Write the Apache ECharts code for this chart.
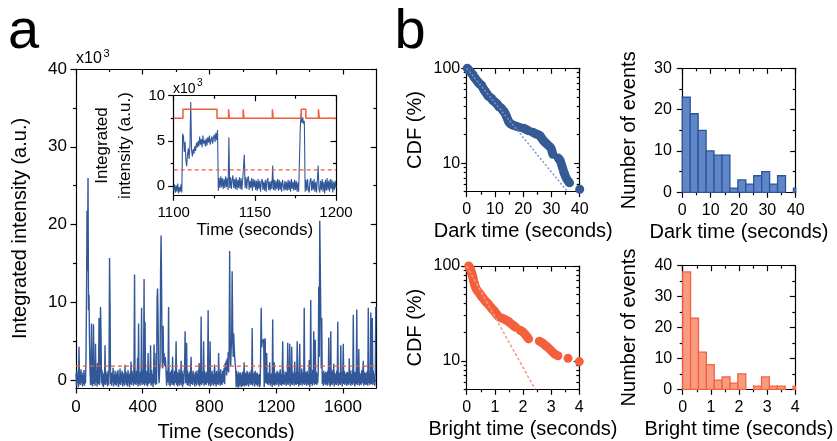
<!DOCTYPE html>
<html><head><meta charset="utf-8">
<script src="https://cdn.jsdelivr.net/npm/echarts@6/dist/echarts.min.js"></script>
<style>html,body{margin:0;padding:0;background:#fff}#c{width:837px;height:441px}</style>
</head><body><div id="c"></div>
<script>
// ---------- data ----------
const traceStep = 3; // seconds per sample (main trace)
const traceValues = [
0.9,-0.7,1.2,-0.4,0.8,-0.9,4.3,-0.5,1.1,-0.6,1.4,-0.3,0.7,-0.8,1.0,-0.5,1.3,-0.7,0.6,-0.4,
3.0,10.5,21.8,14.0,26.0,9.0,11.0,5.0,1.2,-0.6,0.9,7.3,-0.4,-0.8,1.1,7.2,-0.5,0.8,-0.7,4.7,
-0.3,1.2,-0.8,2.2,-0.5,0.9,8.0,-0.6,1.1,9.4,6.0,-0.4,1.3,-0.7,0.8,-0.9,1.0,-0.5,4.5,-0.6,
1.1,-0.4,0.8,-0.8,1.2,-0.6,1.4,15.7,10.0,-0.5,0.9,-0.7,1.0,-0.3,1.6,-0.8,0.7,-0.5,1.2,-0.6,
0.8,-0.7,1.1,-0.4,1.3,-0.9,0.6,-0.5,1.5,-0.6,0.9,-0.3,1.2,-0.8,1.0,-0.5,0.7,-0.7,2.0,-0.4,
1.1,-0.6,0.9,-0.8,1.3,-0.4,0.7,-0.9,1.0,-0.5,2.4,-0.6,1.2,-0.3,0.8,-0.7,2.8,13.6,-0.5,1.1,
-0.6,1.2,-0.4,2.9,-0.8,7.3,-0.5,0.9,-0.7,1.1,-0.3,9.3,-0.6,1.3,-0.5,0.8,13.0,-0.7,7.5,-0.4,
1.0,-0.6,1.2,-0.8,3.5,-0.5,0.9,-0.4,1.1,4.5,-0.7,1.3,-0.5,0.8,-0.9,1.0,4.6,-0.4,1.2,-0.6,
3.5,-0.5,10.5,11.8,8.0,1.2,-0.4,1.1,2.0,14.0,18.6,12.0,2.5,1.5,7.0,2.2,3.5,1.8,3.0,2.4,
1.0,-0.7,1.2,-0.3,1.8,9.4,-0.6,0.9,-0.8,1.1,-0.4,1.3,-0.6,3.0,-0.5,0.8,-0.7,1.2,-0.4,0.9,
5.0,-0.6,1.1,-0.8,0.9,-0.5,1.4,-0.7,1.0,-0.4,2.5,-0.6,1.2,-0.9,0.8,-0.5,1.1,1.6,6.3,-0.4,
0.9,4.8,-0.6,1.2,-0.7,0.8,-0.4,1.1,-0.8,1.3,3.0,-0.5,0.9,-0.6,1.2,-0.3,0.7,-0.8,1.0,-0.5,
1.2,-0.7,0.9,-0.4,1.3,-0.6,2.2,-0.8,1.0,-0.5,8.2,-0.6,1.1,-0.4,0.8,5.0,-0.7,1.2,-0.5,0.9,
-0.6,1.1,-0.4,1.0,9.0,-0.7,1.3,-0.5,5.0,-0.8,0.9,-0.6,1.2,-0.4,0.8,-0.7,1.1,2.0,-0.5,1.0,
-0.8,1.2,-0.5,0.9,-0.6,3.5,-0.4,1.1,-0.7,1.4,-0.5,0.8,-0.6,1.2,-0.3,1.0,1.6,-0.5,2.2,1.4,
2.5,0.6,2.8,1.2,3.6,1.0,4.0,16.6,6.0,1.8,4.0,5.0,14.0,7.0,3.0,6.0,4.5,3.0,2.2,1.5,
-0.9,1.2,-0.7,0.8,-1.0,1.1,-0.8,0.9,-0.6,1.0,-0.9,0.7,-0.8,1.1,-0.7,0.6,2.3,-0.8,0.9,-0.6,
1.0,-0.7,1.2,-0.5,0.8,-0.8,1.1,-0.4,0.9,-0.6,1.3,-0.5,6.7,-0.7,0.8,-0.4,1.0,-0.8,1.2,-0.5,
0.9,-0.6,1.0,-0.8,0.7,-0.5,0.8,-0.9,-0.5,3.8,9.3,4.2,4.9,5.1,4.8,5.3,-0.9,1.0,5.4,-0.4,
1.1,3.5,-0.5,0.9,-0.6,1.0,-0.4,2.3,-0.7,0.8,-0.5,0.9,-0.9,7.8,-0.6,1.0,2.3,-0.7,0.8,-0.5,
1.0,-0.6,1.2,-0.4,0.9,-0.8,1.1,-0.5,1.4,-0.6,0.8,-0.7,1.0,5.0,-0.5,1.2,-0.6,0.7,-0.4,1.1,
-0.7,1.0,-0.5,4.8,-0.6,1.2,-0.4,4.7,-0.8,0.9,-0.5,4.3,-0.6,1.1,-0.4,0.8,-0.7,2.4,-0.5,1.0,
-0.6,0.9,5.0,-0.5,1.1,-0.8,1.2,4.7,-0.6,0.8,-0.4,1.5,-0.7,1.0,-0.5,0.9,9.3,-0.6,1.1,-0.4,
1.0,-0.7,1.2,-0.5,0.8,-0.6,2.6,-0.9,1.1,10.3,-0.5,0.9,-0.7,1.3,-0.4,6.3,-0.6,1.0,5.2,-0.5,
1.1,-0.6,0.9,-0.4,1.2,12.0,3.0,20.5,15.0,9.0,1.5,8.0,-0.5,1.0,-0.7,1.2,-0.4,0.9,-0.6,1.1,
-0.5,1.0,-0.7,1.2,-0.4,5.5,-0.6,0.9,-0.8,6.3,-0.5,1.1,-0.6,1.3,-0.4,2.1,-0.8,1.0,-0.5,0.8,
-0.6,1.2,-0.4,7.5,-0.7,1.0,-0.5,0.9,-0.6,4.5,-0.4,1.1,-0.8,1.0,4.7,-0.5,1.2,-0.6,0.8,-0.4,
1.0,-0.7,1.1,-0.5,0.9,-0.6,2.8,-0.4,1.2,-0.7,0.8,-0.5,1.3,-0.6,8.4,-0.4,1.0,-0.8,1.1,-0.5,
0.9,9.1,-0.6,1.2,-0.4,4.0,-0.7,1.0,-0.5,0.8,-0.6,1.3,-0.4,0.9,2.5,-0.7,1.1,-0.5,0.9,-0.6,
1.0,-0.5,1.2,-0.7,9.3,-0.4,0.9,-0.6,1.1,8.7,-0.5,1.0,8.0,-0.6,1.2,-0.4,0.8,-0.7,1.1,9.4
];
const insetStart = 1100, insetStep = 0.5;
const insetValues = [
-0.5,0.2,-0.7,0.1,-0.6,0.3,-0.8,-0.1,-0.6,0.2,-0.7,5.8,5.5,3.8,4.9,2.9,2.2,3.5,4.2,3.0,
4.5,9.3,4.0,3.3,4.1,3.6,4.4,3.9,4.8,4.3,5.0,4.4,5.5,4.6,5.2,4.3,5.6,4.7,5.1,4.4,
5.3,4.5,5.4,4.8,5.6,4.6,5.1,5.5,4.7,5.4,5.7,4.9,5.9,5.1,6.2,-0.5,0.9,-0.2,1.1,-0.1,
0.9,-0.3,0.8,-0.2,1.1,-0.1,0.9,-0.4,5.4,-0.2,1.0,-0.3,0.7,1.2,-0.2,0.8,-0.3,1.0,-0.4,0.7,
-0.2,1.0,-0.3,0.9,-0.4,0.7,0.8,3.5,-0.2,1.0,-0.3,0.8,1.1,-0.4,0.6,-0.2,0.9,-0.5,0.8,-0.1,
0.7,-0.4,0.6,-0.5,0.8,-0.3,0.6,-0.6,0.5,0.8,-0.4,0.5,-0.5,0.7,-0.6,0.6,0.9,-0.4,0.5,-0.5,
0.6,-0.3,2.3,-0.4,0.7,-0.5,0.6,-0.3,0.8,-0.5,0.7,-0.4,0.5,-0.6,0.7,0.9,-0.5,0.6,-0.4,0.5,
-0.5,0.7,-0.4,0.6,-0.6,0.8,-0.3,0.5,-0.5,0.7,-0.4,0.6,-0.6,0.4,-0.6,-0.8,6.5,8.1,7.0,7.6,
6.9,7.2,-0.6,0.7,-0.5,0.8,-0.4,-0.7,0.6,0.9,-0.5,0.6,-0.4,0.8,-0.6,0.5,-0.7,0.6,2.3,-0.3,
-0.7,0.6,-0.4,0.8,-0.6,0.5,-0.8,0.7,-0.5,0.9,-0.4,0.6,-0.6,0.8,-0.3,0.7,-0.7,0.5,-0.4,0.6,
-0.2
];
const stepTimes  = [1100,1105.7,1126.7,1133.8,1134.3,1142.8,1143.3,1160.8,1161.3,1178.6,1181.4,1189.2,1189.7,1200];
const stepLevels = [7.5, 8.5,   7.5,   8.5,   7.5,   8.5,   7.5,   8.5,   7.5,   8.5,   7.5,   8.5,   7.5,   7.5];
const thresholdLevel = 1.8;

const darkCdf = [[0.2,100],[0.5,97],[0.8,95],[1.1,93],[1.4,91],[1.7,89],[2.0,87],[2.3,84],[2.6,81],[2.9,79],[3.2,77],[3.5,75],[3.8,73],[4.1,71],[4.4,69],[4.7,68],[5.0,67],[5.3,66],[5.6,63],[5.9,61],[6.2,59],[6.5,57],[6.8,56],[7.1,54],[7.4,52],[7.7,51],[8.0,50],[8.4,49],[8.8,48],[9.2,46],[9.6,45],[10.0,44],[10.4,43],[10.8,42],[11.2,40],[11.6,39],[12.0,38.5],[12.4,37.5],[12.8,36],[13.2,35],[13.6,33.5],[13.9,32],[14.2,30.5],[14.5,29],[14.8,27.5],[15.2,26.5],[15.7,25.8],[16.3,25.2],[17.0,24.8],[17.8,24.3],[18.6,23.9],[20.0,23.4],[20.6,23.0],[21.2,22.5],[21.8,22.0],[23.4,21.2],[24.0,20.7],[24.6,20.3],[25.2,20.0],[25.8,19.6],[26.2,19.0],[26.6,18.3],[27.0,17.5],[27.4,16.9],[28.0,16.3],[28.6,15.7],[29.2,15.1],[29.8,14.5],[30.1,13.8],[30.3,13.0],[30.5,12.4],[32.4,11.3],[32.9,10.9],[33.2,10.4],[33.5,9.8],[33.8,9.2],[34.1,8.6],[34.4,8.0],[34.7,7.6],[35.0,7.2],[35.4,6.8],[36.0,6.4],[36.4,6.2],[40.0,5.3]];
const brightCdf = [[0.07,100],[0.1,97],[0.12,94],[0.14,91],[0.16,88],[0.17,85],[0.19,82],[0.2,79],[0.22,76],[0.23,73],[0.24,70],[0.26,67],[0.28,64],[0.3,61],[0.33,58],[0.36,56],[0.4,54],[0.44,52],[0.48,50],[0.52,48],[0.56,46.5],[0.6,45],[0.64,43.5],[0.68,42],[0.72,41],[0.76,40],[0.8,38.5],[0.84,37],[0.88,36],[0.92,35],[0.96,34],[1.0,33],[1.04,31.5],[1.08,30.5],[1.12,29.5],[1.2,28.5],[1.28,28],[1.36,27.2],[1.42,26.6],[1.48,26],[1.55,25],[1.62,24],[1.68,23.3],[1.74,22.6],[1.9,21],[1.97,20.4],[2.04,19.6],[2.1,18.6],[2.15,17.8],[2.2,17],[2.58,16.1],[2.66,15.6],[2.74,15],[2.82,14.3],[2.9,13.7],[2.98,13],[3.06,12.3],[3.14,11.7],[3.24,11.3],[3.6,10.6],[4.0,9.8]];
const darkFit = [[0,100],[35.7,5]];
const brightFit = [[0,100],[2.43,5]];

const darkBinWidth = 2.8;
const darkCounts = [23,19,15,10,9,9,1,3,2,4,5,2,4,0,1];
const brightBinWidth = 0.28;
const brightCounts = [38,23,12,8,3,4,2,5,0,1,4,1,1,0,1];

// tick values
const mainXMajor = [0,400,800,1200,1600], mainXMinor = [200,600,1000,1400];
const mainYMajor = [0,10,20,30,40], mainYMinor = [5,15,25,35];
const insetXMajor = [1100,1150,1200], insetXMinor = [1125,1175];
const insetYMajor = [0,5,10], insetYMinor = [2.5,7.5];
const darkXMajor = [0,10,20,30,40], darkXMinor = [5,15,25,35];
const brightXMajor = [0,1,2,3,4], brightXMinor = [0.5,1.5,2.5,3.5];
const cdfYMajor = [10,100], cdfYMinor = [5,6,7,8,9,20,30,40,50,60,70,80,90];
const darkHistYMajor = [0,10,20,30], darkHistYMinor = [5,15,25];
const brightHistYMajor = [0,10,20,30,40], brightHistYMinor = [5,15,25,35];

// ---------- styling / layout ----------
const F = '"Liberation Sans", Arial, Helvetica, sans-serif';
const BLUE = '#33589a', RED = '#f45b38';
const xAxes = [], yAxes = [];
function frame(g, xs, ys) {
  const ln = {show: true, onZero: false, lineStyle: {color: '#000', width: 1.2}};
  const noLn = {show: false, onZero: false};
  const tick = (vals, len, inside) => ({show: true, customValues: vals, length: len, inside: inside, lineStyle: {color: '#000', width: 1.2}});
  const noLab = {show: false};
  const lab = (c) => ({show: true, customValues: c.major, margin: c.margin, fontSize: c.size, color: '#000', fontFamily: F,
    formatter: (v) => String(v)});
  const mk = (c, pos, line, tk, label, named) => {
    const o = {gridIndex: g, type: c.type || 'value', min: c.min, max: c.max, position: pos,
      axisLine: line, axisTick: tk, axisLabel: label, splitLine: {show: false}, minorTick: {show: false},
      silent: true, axisPointer: {show: false}};
    if (c.type === 'log') o.logBase = 10;
    if (named) {
      o.name = c.name; o.nameLocation = 'middle'; o.nameGap = c.nameGap;
      o.nameTextStyle = {fontSize: c.nameSize, color: '#000', fontFamily: F};
      if (c.nameLH) o.nameTextStyle.lineHeight = c.nameLH;
    }
    return o;
  };
  const xi = xAxes.length, yi = yAxes.length;
  xAxes.push(mk(xs, 'bottom', ln, tick(xs.major, 5.5, false), lab(xs), true));
  xAxes.push(mk(xs, 'bottom', noLn, tick(xs.minor, 3, false), noLab, false));
  xAxes.push(mk(xs, 'top', ln, tick(xs.major, 5.5, true), noLab, false));
  xAxes.push(mk(xs, 'top', noLn, tick(xs.minor, 3, true), noLab, false));
  yAxes.push(mk(ys, 'left', ln, tick(ys.major, 5.5, false), lab(ys), true));
  yAxes.push(mk(ys, 'left', noLn, tick(ys.minor, 3, false), noLab, false));
  yAxes.push(mk(ys, 'right', ln, tick(ys.major, 5.5, true), noLab, false));
  yAxes.push(mk(ys, 'right', noLn, tick(ys.minor, 3, true), noLab, false));
  return {x: xi, y: yi};
}

const grids = [
  {left: 76, top: 69, width: 300.3, height: 319},
  {left: 173.7, top: 95.7, width: 162.3, height: 99.6},
  {left: 466.7, top: 68.3, width: 113, height: 123.4},
  {left: 682.3, top: 68.3, width: 113.4, height: 124},
  {left: 466.7, top: 266, width: 112.6, height: 123.3},
  {left: 682.7, top: 265.7, width: 112.6, height: 123.6}
].map(g => Object.assign({containLabel: false, outerBoundsMode: 'none', show: false}, g));

const A = frame(0,
  {min: 0, max: 1800, major: mainXMajor, minor: mainXMinor, size: 17, margin: 11, name: 'Time (seconds)', nameGap: 34, nameSize: 20},
  {min: -1, max: 40, major: mainYMajor, minor: mainYMinor, size: 17, margin: 9, name: 'Integrated intensity (a.u.)', nameGap: 46, nameSize: 20});
const I = frame(1,
  {min: 1100, max: 1200, major: insetXMajor, minor: insetXMinor, size: 15, margin: 10, name: 'Time (seconds)', nameGap: 27, nameSize: 17},
  {min: -1, max: 10, major: insetYMajor, minor: insetYMinor, size: 15, margin: 8.5, name: 'Integrated\nintensity (a.u.)', nameGap: 37, nameSize: 17, nameLH: 23});
const DC = frame(2,
  {min: 0, max: 40, major: darkXMajor, minor: darkXMinor, size: 16, margin: 10, name: 'Dark time (seconds)', nameGap: 30, nameSize: 20},
  {type: 'log', min: 5, max: 100, major: cdfYMajor, minor: cdfYMinor, size: 16, margin: 6.5, name: 'CDF (%)', nameGap: 41, nameSize: 20});
const DH = frame(3,
  {min: 0, max: 40, major: darkXMajor, minor: darkXMinor, size: 16, margin: 10, name: 'Dark time (seconds)', nameGap: 30, nameSize: 20},
  {min: 0, max: 30, major: darkHistYMajor, minor: darkHistYMinor, size: 16, margin: 10.5, name: 'Number of events', nameGap: 43, nameSize: 20});
const BC = frame(4,
  {min: 0, max: 4, major: brightXMajor, minor: brightXMinor, size: 16, margin: 10, name: 'Bright time (seconds)', nameGap: 30, nameSize: 20},
  {type: 'log', min: 5, max: 100, major: cdfYMajor, minor: cdfYMinor, size: 16, margin: 6.5, name: 'CDF (%)', nameGap: 41, nameSize: 20});
const BH = frame(5,
  {min: 0, max: 4, major: brightXMajor, minor: brightXMinor, size: 16, margin: 10, name: 'Bright time (seconds)', nameGap: 30, nameSize: 20},
  {min: 0, max: 40, major: brightHistYMajor, minor: brightHistYMinor, size: 16, margin: 10.5, name: 'Number of events', nameGap: 43, nameSize: 20});

function histRender(binWidth, fill, stroke) {
  return function (params, api) {
    const x0 = api.value(0), c = api.value(1);
    if (!c) return null;
    const p0 = api.coord([x0, c]);
    const p1 = api.coord([x0 + binWidth, 0]);
    const cs = params.coordSys;
    const rect = echarts.graphic.clipRectByRect(
      {x: p0[0], y: p0[1], width: p1[0] - p0[0], height: p1[1] - p0[1]},
      {x: cs.x, y: cs.y, width: cs.width, height: cs.height});
    if (!rect) return null;
    return {type: 'rect', shape: rect, style: {fill: fill, stroke: stroke, lineWidth: 1.3}};
  };
}

const chart = echarts.init(document.getElementById('c'), null, {renderer: 'canvas', width: 837, height: 441});
chart.setOption({
  animation: false,
  backgroundColor: '#fff',
  textStyle: {fontFamily: F},
  grid: grids,
  xAxis: xAxes,
  yAxis: yAxes,
  graphic: [
    {type: 'text', x: 8, y: 32.6, style: {text: 'a', font: '56px ' + F, fill: '#000', verticalAlign: 'middle'}},
    {type: 'text', x: 394.5, y: 32.6, style: {text: 'b', font: '56px ' + F, fill: '#000', verticalAlign: 'middle'}},
    {type: 'text', x: 76, y: 58.5, style: {text: 'x10', font: '16px ' + F, fill: '#000', verticalAlign: 'middle'}},
    {type: 'text', x: 103.5, y: 54, style: {text: '3', font: '11px ' + F, fill: '#000', verticalAlign: 'middle'}},
    {type: 'text', x: 173, y: 89, style: {text: 'x10', font: '14px ' + F, fill: '#000', verticalAlign: 'middle'}},
    {type: 'text', x: 197, y: 83.7, style: {text: '3', font: '10px ' + F, fill: '#000', verticalAlign: 'middle'}}
  ],
  series: [
    {type: 'line', xAxisIndex: A.x, yAxisIndex: A.y, data: traceValues.map((v, i) => [i * traceStep, v]),
      symbol: 'none', lineStyle: {color: BLUE, width: 1.4}, z: 2},
    {type: 'line', xAxisIndex: A.x, yAxisIndex: A.y, data: [[0, thresholdLevel], [1800, thresholdLevel]],
      symbol: 'none', lineStyle: {color: RED, width: 1.2, type: [4, 3]}, z: 3},
    {type: 'line', xAxisIndex: I.x, yAxisIndex: I.y, data: insetValues.map((v, i) => [insetStart + i * insetStep, v]),
      symbol: 'none', lineStyle: {color: BLUE, width: 1.1}, z: 2},
    {type: 'line', xAxisIndex: I.x, yAxisIndex: I.y, data: stepTimes.map((t, i) => [t, stepLevels[i]]), step: 'end',
      symbol: 'none', lineStyle: {color: RED, width: 1.5}, z: 3},
    {type: 'line', xAxisIndex: I.x, yAxisIndex: I.y, data: [[1100, thresholdLevel], [1200, thresholdLevel]],
      symbol: 'none', lineStyle: {color: RED, width: 1.2, type: [4, 3]}, z: 3},
    {type: 'scatter', xAxisIndex: DC.x, yAxisIndex: DC.y, data: darkCdf, symbol: 'circle', symbolSize: 9,
      itemStyle: {color: '#355a94', opacity: 1}, z: 2},
    {type: 'line', xAxisIndex: DC.x, yAxisIndex: DC.y, data: darkFit, symbol: 'none',
      lineStyle: {color: '#7595d6', width: 1.5, type: [2, 2]}, z: 3},
    {type: 'custom', xAxisIndex: DH.x, yAxisIndex: DH.y, data: darkCounts.map((c, i) => [i * darkBinWidth, c]),
      renderItem: histRender(darkBinWidth, '#5e86c8', '#2f5596'), z: 2},
    {type: 'scatter', xAxisIndex: BC.x, yAxisIndex: BC.y, data: brightCdf, symbol: 'circle', symbolSize: 9,
      itemStyle: {color: '#f4603c', opacity: 1}, z: 2},
    {type: 'line', xAxisIndex: BC.x, yAxisIndex: BC.y, data: brightFit, symbol: 'none',
      lineStyle: {color: '#f79a80', width: 1.5, type: [3, 2]}, z: 3},
    {type: 'custom', xAxisIndex: BH.x, yAxisIndex: BH.y, data: brightCounts.map((c, i) => [i * brightBinWidth, c]),
      renderItem: histRender(brightBinWidth, '#f99b80', '#f4623f'), z: 2}
  ]
});
</script></body></html>
